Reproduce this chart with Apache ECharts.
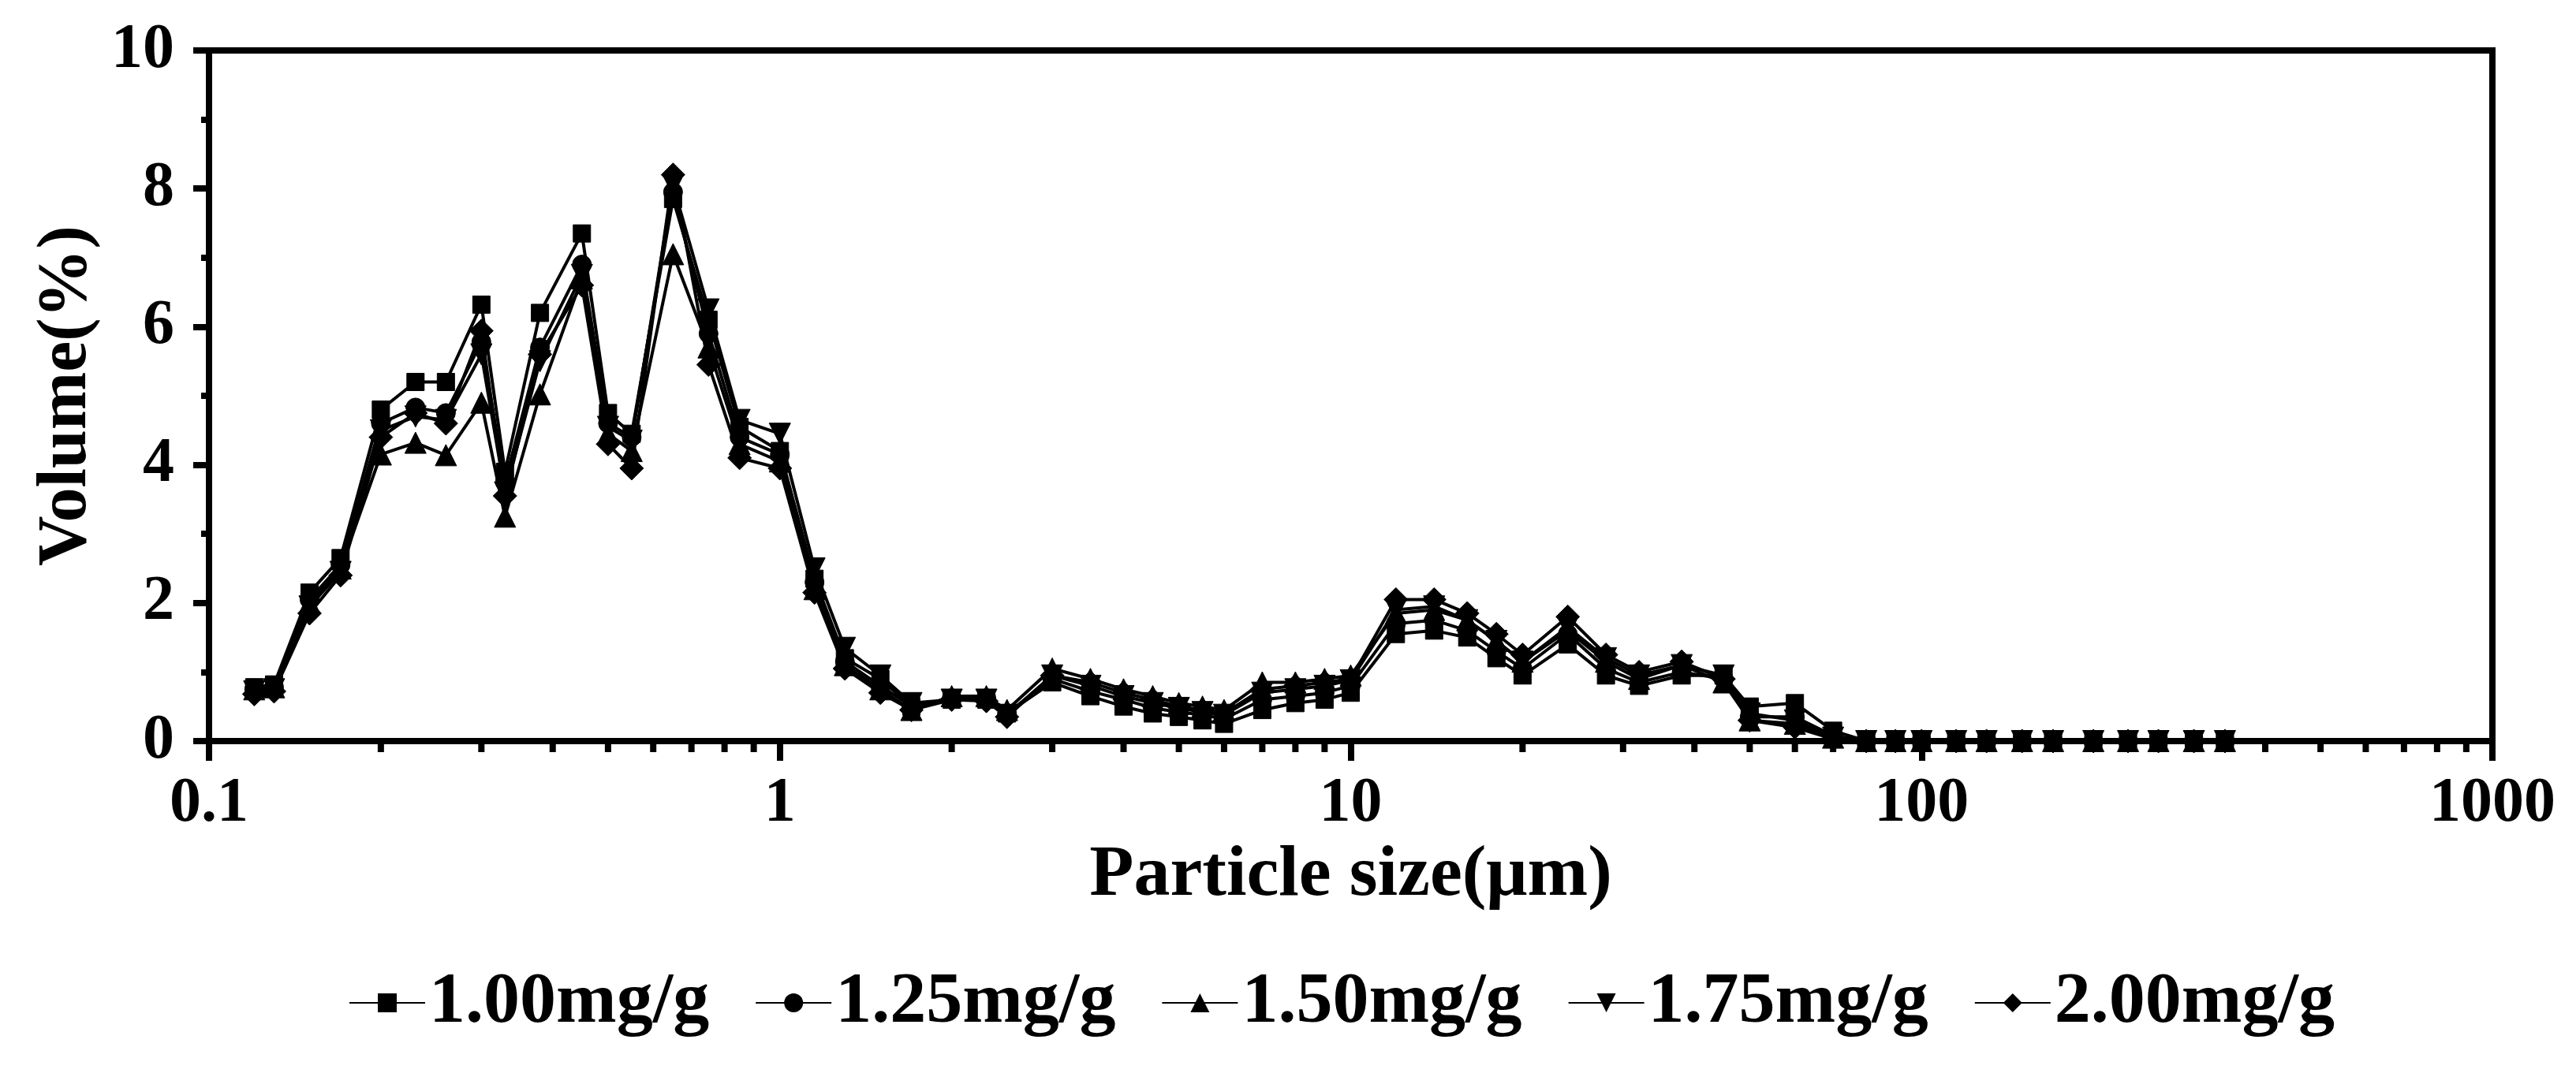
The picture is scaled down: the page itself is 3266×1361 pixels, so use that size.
<!DOCTYPE html>
<html><head><meta charset="utf-8">
<script src="https://cdn.jsdelivr.net/npm/echarts@6/dist/echarts.min.js"></script>
<style>html,body{margin:0;padding:0;background:#fff}#c{width:3266px;height:1361px}</style>
</head><body><div id="c"></div>
<script>
// Particle size bins (µm)
const sizes = [0.12,0.13,0.15,0.17,0.20,0.23,0.26,0.30,0.33,0.38,0.45,0.50,0.55,0.65,0.75,0.85,1.0,1.15,1.3,1.5,1.7,2.0,2.3,2.5,3.0,3.5,4.0,4.5,5.0,5.5,6.0,7,8,9,10,12,14,16,18,20,24,28,32,38,45,50,60,70,80,90,100,115,130,150,170,200,230,260,300,340];

// Volume (%) per series
const v100 = [0.78,0.82,2.15,2.65,4.8,5.2,5.2,6.32,3.9,6.2,7.35,4.75,4.45,7.85,6.1,4.55,4.2,2.35,1.2,0.9,0.5,0.6,0.6,0.4,0.85,0.65,0.5,0.4,0.35,0.3,0.25,0.45,0.55,0.6,0.7,1.55,1.6,1.5,1.2,0.95,1.4,0.95,0.8,0.95,0.95,0.5,0.55,0.15,0,0,0,0,0,0,0,0,0,0,0,0];
const v125 = [0.75,0.78,2.05,2.55,4.6,4.83,4.75,5.78,3.75,5.7,6.9,4.6,4.4,7.95,5.9,4.4,4.15,2.3,1.15,0.8,0.5,0.62,0.62,0.4,0.9,0.72,0.6,0.48,0.42,0.38,0.32,0.6,0.65,0.7,0.8,1.7,1.75,1.6,1.3,1.05,1.55,1.05,0.85,1.0,0.9,0.35,0.35,0.08,0,0,0,0,0,0,0,0,0,0,0,0];
const v150 = [0.75,0.78,2.0,2.5,4.15,4.32,4.14,4.9,3.25,5.02,6.7,4.45,4.2,7.05,5.7,4.3,4.05,2.2,1.1,0.75,0.45,0.65,0.65,0.45,1.05,0.9,0.75,0.65,0.55,0.5,0.45,0.85,0.85,0.9,0.95,1.85,1.9,1.75,1.45,1.15,1.6,1.15,0.9,1.1,0.85,0.3,0.25,0.05,0,0,0,0,0,0,0,0,0,0,0,0];
const v175 = [0.72,0.75,1.95,2.45,4.5,4.7,4.65,5.6,3.6,5.5,6.75,4.55,4.35,8.05,6.25,4.65,4.45,2.5,1.35,0.95,0.55,0.6,0.6,0.38,0.95,0.8,0.65,0.55,0.48,0.42,0.38,0.7,0.75,0.8,0.88,1.9,1.95,1.75,1.45,1.15,1.65,1.2,0.95,1.1,0.95,0.4,0.3,0.05,0,0,0,0,0,0,0,0,0,0,0,0];
const v200 = [0.68,0.72,1.85,2.4,4.4,4.75,4.6,5.94,3.55,5.6,6.6,4.3,3.95,8.2,5.45,4.1,3.95,2.15,1.05,0.7,0.45,0.6,0.58,0.35,0.95,0.85,0.7,0.6,0.5,0.45,0.4,0.75,0.8,0.85,0.9,2.05,2.05,1.85,1.55,1.25,1.8,1.25,1.0,1.15,0.9,0.3,0.2,0.03,0,0,0,0,0,0,0,0,0,0,0,0];

const seriesNames = ['1.00mg/g','1.25mg/g','1.50mg/g','1.75mg/g','2.00mg/g'];
const seriesSymbols = ['rect','circle','triangle','triangle','diamond'];
const xTickLabels = ['0.1','1','10','100','1000'];
const yTickValues = [0,2,4,6,8,10];
const minorTickValues = [0.2,0.3,0.4,0.5,0.6,0.7,0.8,0.9,2,3,4,5,6,7,8,9,20,30,40,50,60,70,80,90,200,300,400,500,600,700,800,900];

const allValues = [v100, v125, v150, v175, v200];
const FONT = '"Liberation Serif","Times New Roman",serif';
const symSizes = [22, 24, 27, 27, 30];
const symRot = [0, 0, 0, 180, 0];

const chart = echarts.init(document.getElementById('c'), null, {renderer:'canvas'});

const lineSeries = seriesNames.map((name, k) => ({
  name: name,
  type: 'line',
  data: sizes.map((x, i) => [x, allValues[k][i]]),
  symbol: seriesSymbols[k],
  symbolSize: symSizes[k],
  symbolRotate: symRot[k],
  showAllSymbol: true,
  lineStyle: {color: '#000', width: 4},
  itemStyle: {color: '#000', borderColor:'#000'},
  emphasis: {disabled: true},
  z: 3 + k,
  clip: false
}));

const minorTickSeries = {
  type: 'custom',
  name: 'minorTicks',
  silent: true,
  clip: false,
  z: 10,
  data: minorTickValues.map(v => [v, 0]),
  renderItem: function (params, api) {
    const p = api.coord([api.value(0), 0]);
    return {type: 'rect', shape: {x: p[0] - 4, y: p[1], width: 8, height: 14}, style: {fill: '#000'}};
  }
};

chart.setOption({
  animation: false,
  backgroundColor: '#fff',
  grid: {left: 265, right: 106, top: 64, bottom: 421, show: true, borderColor: '#000', borderWidth: 8, backgroundColor: 'transparent'},
  legend: {
    data: seriesNames,
    bottom: 38,
    left: 437,
    itemWidth: 96,
    itemHeight: 30,
    itemGap: 58,
    textStyle: {fontFamily: FONT, fontWeight: 'bold', fontSize: 92, color: '#000'}
  },
  xAxis: {
    type: 'log', logBase: 10, min: 0.1, max: 1000,
    name: 'Particle size(μm)', nameLocation: 'middle', nameGap: 116,
    nameTextStyle: {fontFamily: FONT, fontWeight: 'bold', fontSize: 92, color: '#000'},
    axisLine: {show: true, onZero: false, lineStyle: {color: '#000', width: 8}},
    axisTick: {show: true, inside: false, length: 25, lineStyle: {color: '#000', width: 8}},
    minorTick: {show: false},
    splitLine: {show: false},
    axisLabel: {
      margin: 40, fontFamily: FONT, fontWeight: 'bold', fontSize: 80, color: '#000',
      formatter: function (v) { const i = Math.round(Math.log10(v)) + 1; return xTickLabels[i] !== undefined ? xTickLabels[i] : ''; }
    }
  },
  yAxis: {
    type: 'value', min: 0, max: 10, interval: 2,
    name: 'Volume(%)', nameLocation: 'middle', nameGap: 136, nameRotate: 90,
    nameTextStyle: {fontFamily: FONT, fontWeight: 'bold', fontSize: 88, color: '#000'},
    axisLine: {show: true, lineStyle: {color: '#000', width: 8}},
    axisTick: {show: true, inside: false, length: 20, lineStyle: {color: '#000', width: 8}},
    minorTick: {show: true, splitNumber: 2, length: 10, lineStyle: {color: '#000', width: 8}},
    splitLine: {show: false},
    axisLabel: {margin: 44, fontFamily: FONT, fontWeight: 'bold', fontSize: 80, color: '#000',
      formatter: function (v) { return yTickValues.indexOf(v) >= 0 ? String(v) : ''; }}
  },
  series: lineSeries.concat([minorTickSeries])
});
</script>
</body></html>
